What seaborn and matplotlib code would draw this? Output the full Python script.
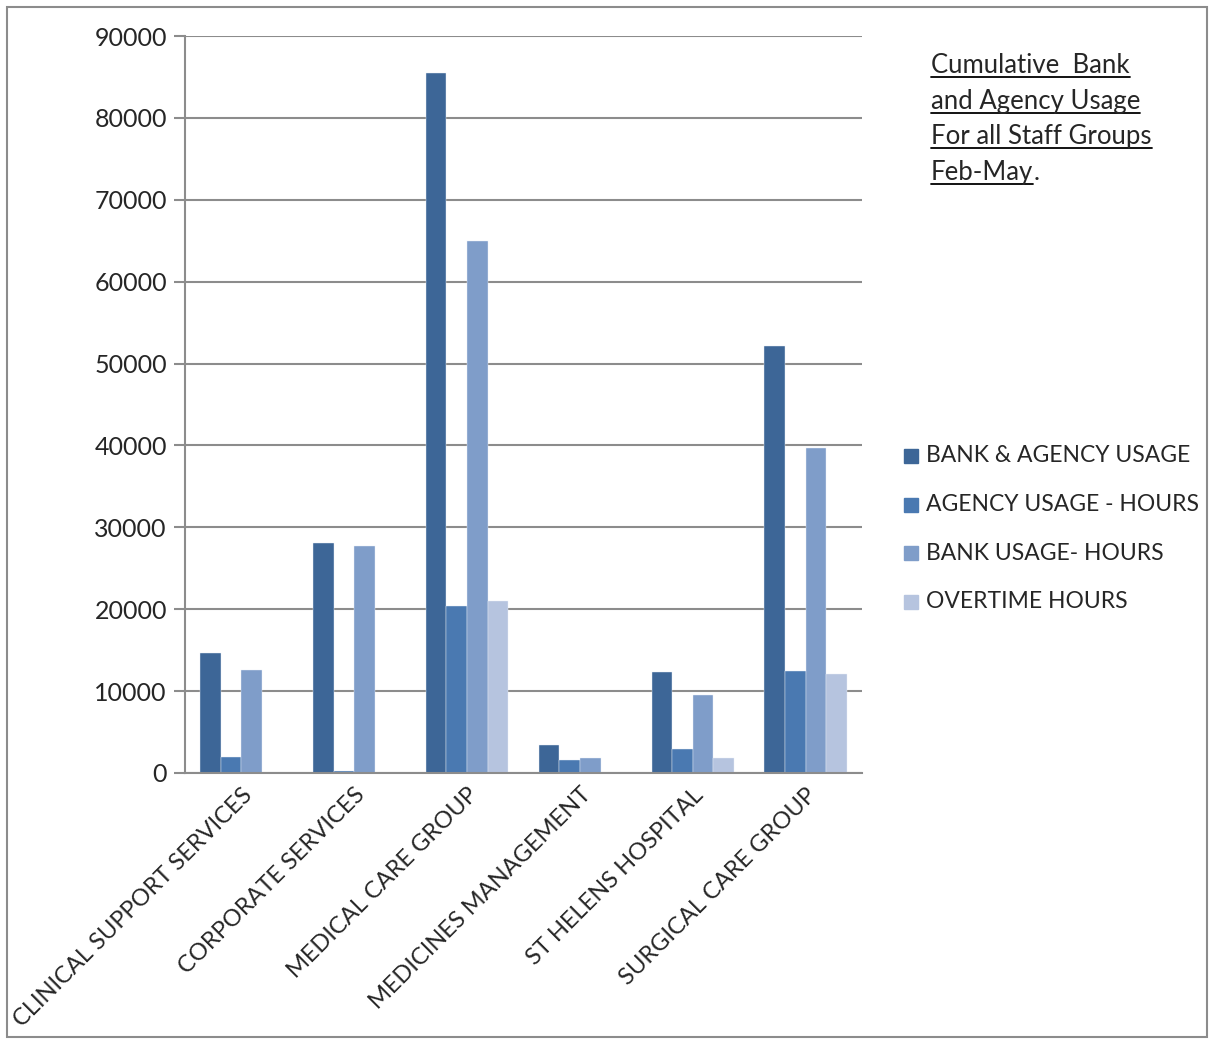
import numpy as np
import pandas as pd
import matplotlib.pyplot as plt
import seaborn as sns
from matplotlib.patches import Rectangle

categories = ["CLINICAL SUPPORT SERVICES", "CORPORATE SERVICES", "MEDICAL CARE GROUP",
              "MEDICINES MANAGEMENT", "ST HELENS HOSPITAL", "SURGICAL CARE GROUP"]
series = ["BANK & AGENCY USAGE", "AGENCY USAGE - HOURS", "BANK USAGE- HOURS", "OVERTIME HOURS"]
bank_agency = [14650, 28080, 85470, 3420, 12330, 52140]
agency_hours = [1950, 300, 20390, 1590, 2930, 12450]
bank_hours = [12580, 27720, 64960, 1830, 9520, 39680]
overtime_hours = [0, 0, 21000, 0, 1830, 12090]
colors = ["#3D6697", "#4A79B1", "#7F9DC9", "#B6C4DF"]

df = pd.DataFrame({
    "group": categories * 4,
    "series": [s for s in series for _ in categories],
    "value": bank_agency + agency_hours + bank_hours + overtime_hours,
})

sns.set_style("white")
plt.rcParams["font.family"] = ["Lato", "DejaVu Sans"]

fig = plt.figure(figsize=(12.11, 10.44), dpi=100)
ax = fig.add_axes([185/1211, 1-773/1044, (862-185)/1211, (773-36)/1044])

sns.barplot(data=df, x="group", y="value", hue="series", palette=colors,
            width=0.73, ax=ax, legend=False, saturation=1, edgecolor="#e8eef7", linewidth=0.3)

ax.set_ylim(0, 90000)
ax.set_yticks(range(0, 90001, 10000))
ax.yaxis.grid(True, color="#8c8c8c", linewidth=1.5)
ax.set_axisbelow(True)
for s in ["top", "right"]:
    ax.spines[s].set_visible(False)
for s in ["left", "bottom"]:
    ax.spines[s].set_color("#8c8c8c")
    ax.spines[s].set_linewidth(1.5)
ax.set_xlim(-0.5, len(categories) - 0.5)
ax.set_xticks(np.arange(-0.5, len(categories)), minor=True)
ax.tick_params(axis="x", which="major", length=0, labelsize=17, pad=8)
ax.tick_params(axis="x", which="minor", length=8, color="#8c8c8c", width=1.5)
ax.tick_params(axis="y", length=8, color="#8c8c8c", width=1.5, labelsize=18, pad=5, left=True)
ax.set_xlabel("")
ax.set_ylabel("")
plt.setp(ax.get_xticklabels(), rotation=45, ha="right", rotation_mode="anchor")

# legend
for i, (name, c) in enumerate(zip(series, colors)):
    y = 1 - (456 + i * 48.5) / 1044
    fig.patches.append(Rectangle((904/1211, y - 7/1044), 14/1211, 14/1044,
                                 transform=fig.transFigure, color=c))
    fig.text(926/1211, y, name, fontsize=16.5, va="center", ha="left")

# underlined title
title_lines = ["Cumulative  Bank", "and Agency Usage", "For all Staff Groups", "Feb-May"]
fig.canvas.draw()
renderer = fig.canvas.get_renderer()
for i, line in enumerate(title_lines):
    ybase = 1 - (73 + i * 35.5) / 1044
    t = fig.text(931/1211, ybase, line, fontsize=18.5, va="baseline", ha="left")
    bb = t.get_window_extent(renderer)
    fig.add_artist(plt.Line2D([bb.x0 / 1211, bb.x1 / 1211],
                              [ybase - 4/1044, ybase - 4/1044],
                              color="black", linewidth=1.3))
    if line == "Feb-May":
        fig.text(bb.x1 / 1211, ybase, ".", fontsize=18.5, va="baseline", ha="left")

# border
fig.patches.append(Rectangle((7/1211, 1-1037/1044), 1200/1211, 1030/1044, transform=fig.transFigure,
                             fill=False, edgecolor="#8c8c8c", linewidth=1.5))

fig.savefig("out.png", dpi=100)
